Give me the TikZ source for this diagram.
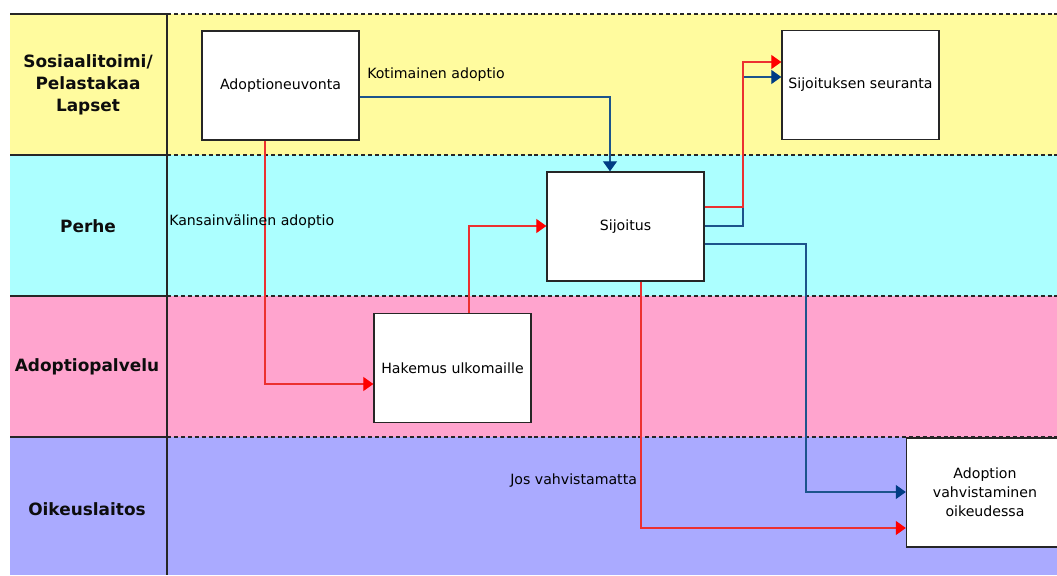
\documentclass[tikz,border=0pt]{standalone}
\usepackage{fontspec}
\setmainfont{DejaVu Sans}
\usetikzlibrary{arrows.meta}

\definecolor{laneyellow}{RGB}{255,251,158}
\definecolor{lanecyan}{RGB}{172,255,255}
\definecolor{lanepink}{RGB}{255,164,206}
\definecolor{lanelav}{RGB}{170,170,255}
\definecolor{flowred}{RGB}{236,48,48}
\definecolor{tipred}{RGB}{255,0,0}
\definecolor{flowblue}{RGB}{28,84,140}
\definecolor{tipblue}{RGB}{0,60,132}

\tikzset{
  lanetitle/.style={font=\bfseries\fontsize{12.7}{16.5}\selectfont, align=center, text=black!95},
  taskbox/.style={draw=black!85, line width=1pt, fill=white, minimum width=117.75pt,
    minimum height=81.75pt, inner sep=2pt, align=center,
    font=\fontsize{10.6}{14.25}\selectfont},
  flowlabel/.style={anchor=west, inner sep=0pt, font=\fontsize{10.6}{12}\selectfont},
  solidrule/.style={line width=0.9pt, black!85},
  dashrule/.style={line width=0.9pt, black!85, dash pattern=on 3pt off 2.2pt},
  redflow/.style={line width=0.8pt, flowred,
    -{Triangle[length=7.5pt, width=10.5pt, color=tipred, fill=tipred]}},
  blueflow/.style={line width=0.8pt, flowblue,
    -{Triangle[length=7.5pt, width=10.5pt, color=tipblue, fill=tipblue]}},
}

\begin{document}
\begin{tikzpicture}[x=0.75pt, y=-0.75pt]
  \path[use as bounding box, fill=white] (0,0) rectangle (1057,575);
  \clip (0,0) rectangle (1057,575);

  % swimlane bands
  \fill[laneyellow] (10,14) rectangle (1057,155);
  \fill[lanecyan]   (10,155) rectangle (1057,296);
  \fill[lanepink]   (10,296) rectangle (1057,437);
  \fill[lanelav]    (10,437) rectangle (1057,575);

  % lane separators: solid in the title column, dashed across the lane body
  \foreach \yy in {14,155,296,437} {
    \draw[solidrule] (10,\yy) -- (167,\yy);
    \draw[dashrule] (167,\yy) -- (1057,\yy);
  }
  \draw[solidrule] (167,14) -- (167,575);

  % lane titles
  \node[lanetitle] (lane1) at (88,85) {Sosiaalitoimi/\\Pelastakaa\\Lapset};
  \node[lanetitle] (lane2) at (88,226) {Perhe};
  \node[lanetitle] (lane3) at (87,367) {Adoptiopalvelu};
  \node[lanetitle] (lane4) at (87,509) {Oikeuslaitos};

  % process steps
  \node[taskbox] (adv)  at (280.5,85.5) {Adoptioneuvonta};
  \node[taskbox] (seur) at (860.5,85)   {Sijoituksen seuranta};
  \node[taskbox] (sij)  at (625.5,226.5) {Sijoitus};
  \node[taskbox] (hak)  at (452.5,368)  {Hakemus ulkomaille};
  \node[taskbox] (vahv) at (985,492.5)  {Adoption\\vahvistaminen\\oikeudessa};

  % domestic adoption
  \draw[blueflow] (adv.east |- 0,97) -| (610,0 |- sij.north);
  \node[flowlabel] (lblkot) at (367,75) {Kotimainen adoptio};

  % international adoption
  \draw[redflow] (265,0 |- adv.south) |- (hak.west |- 0,384);
  \node[flowlabel] (lblkan) at (169,222) {Kansainvälinen adoptio};
  \draw[redflow] (469,0 |- hak.north) |- (sij.west |- 0,226);

  % follow-up after placement
  \draw[blueflow] (sij.east |- 0,226) -| (743,77) -- (seur.west |- 0,77);
  \draw[redflow] (sij.east |- 0,207) -| (743,62) -- (seur.west |- 0,62);

  % confirmation in court
  \draw[blueflow] (sij.east |- 0,244) -| (806,492) -- (vahv.west |- 0,492);
  \draw[redflow] (641,0 |- sij.south) |- (vahv.west |- 0,528);
  \node[flowlabel] (lbljos) at (510,481) {Jos vahvistamatta};
\end{tikzpicture}
\end{document}
